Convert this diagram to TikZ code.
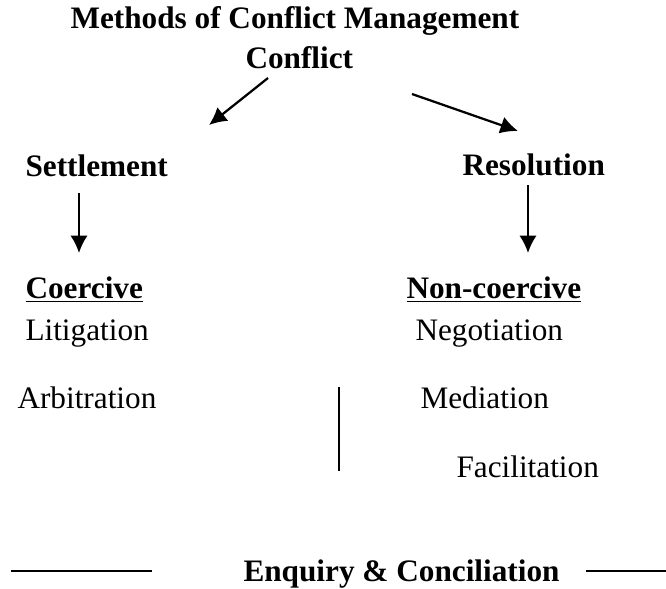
\documentclass[tikz,border=0pt]{standalone}
\usepackage{fontspec}
\setmainfont{Liberation Serif}
\usetikzlibrary{arrows.meta}
\tikzset{
  lbl/.style={anchor=base west, inner sep=0pt, font=\fontsize{12.5}{15}\selectfont},
  head/.style={lbl, font=\fontsize{12.5}{15}\selectfont\bfseries},
  arr/.style={-{Latex[length=7pt,width=7pt]}, line width=0.9pt},
}
\begin{document}
\begin{tikzpicture}[x=0.4pt,y=-0.4pt]
  \useasboundingbox (0,0) rectangle (666,588);
  \node[head] (title) at (70,28) {Methods of Conflict Management};
  \node[head] (conflict) at (245,68) {Conflict};
  \node[head] (settle) at (25,176) {Settlement};
  \node[head] (resol) at (462,175) {Resolution};
  \node[head] (coerc) at (25,298) {\underline{Coercive}};
  \node[head] (noncoerc) at (406,298) {\underline{Non-coercive}};
  \node[lbl] (litig) at (25,340) {Litigation};
  \node[lbl] (negot) at (415,340) {Negotiation};
  \node[lbl] (arbit) at (17,408) {Arbitration};
  \node[lbl] (media) at (420,408) {Mediation};
  \node[lbl] (facil) at (456,477) {Facilitation};
  \node[head] (enq) at (243,581) {Enquiry \& Conciliation};
%
  \coordinate (a1) at (268,78);  \coordinate (b1) at (209,125);
  \coordinate (a2) at (412,94);  \coordinate (b2) at (518,131);
  \coordinate (a3) at (79,193);  \coordinate (b3) at (79,253);
  \coordinate (a4) at (528,185); \coordinate (b4) at (528,253);
  \draw[arr] (a1) -- (b1);
  \draw[arr] (a2) -- (b2);
  \draw[arr] (a3) -- (b3);
  \draw[arr] (a4) -- (b4);
%
  \coordinate (v1) at (339,387); \coordinate (v2) at (339,471);
  \draw[line width=0.5pt] (v1) -- (v2);
  \coordinate (l1) at (11,571);  \coordinate (l2) at (152,571);
  \coordinate (r1) at (586,571); \coordinate (r2) at (666,571);
  \draw[line width=0.8pt] (l1) -- (l2);
  \draw[line width=0.8pt] (r1) -- (r2);
\end{tikzpicture}
\end{document}
